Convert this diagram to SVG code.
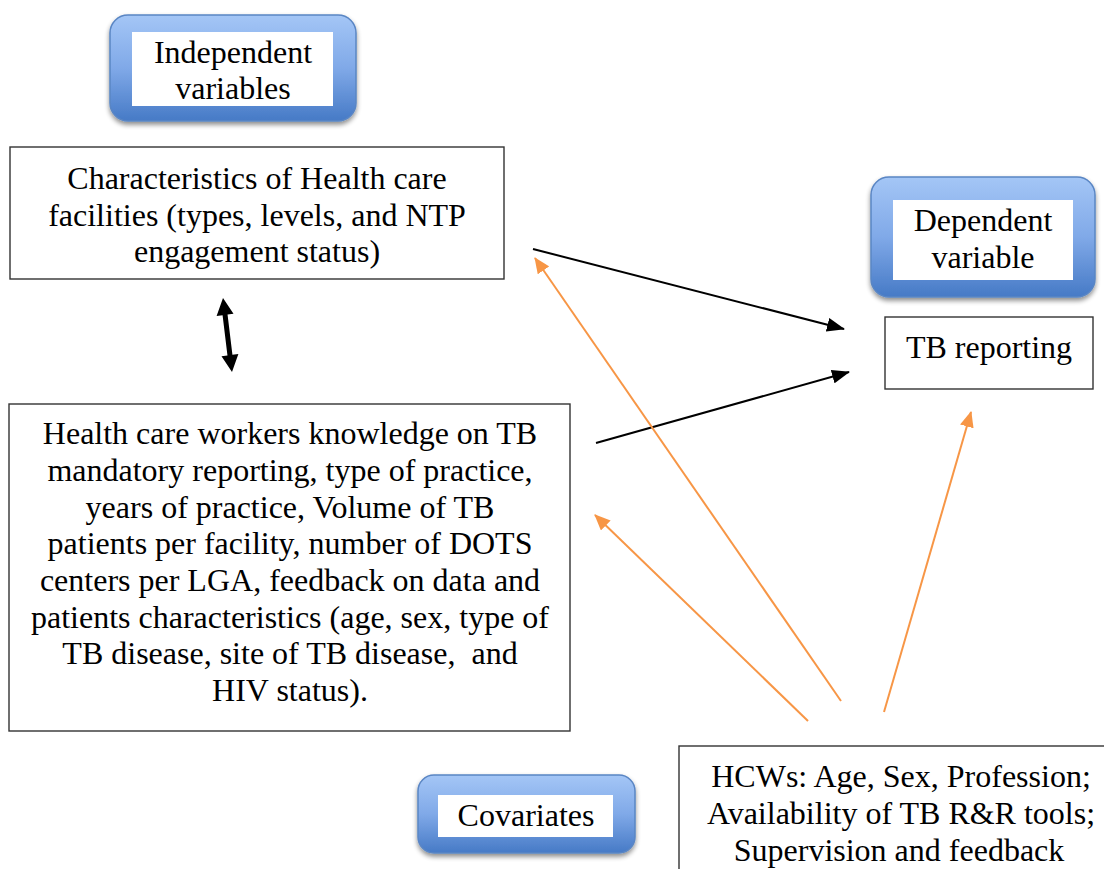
<svg xmlns="http://www.w3.org/2000/svg" width="1104" height="869" viewBox="0 0 1104 869">
  <style>
    .t { font-family: "Liberation Serif", "Times New Roman", serif; font-size: 32px; fill: #000; text-anchor: middle; }
    .box { fill: #fff; stroke: #333; stroke-width: 1.4; }
    .pill { fill: url(#blueGrad); stroke: #5a86c4; stroke-width: 1.5; filter: url(#shadow); }
    .inner { fill: #fff; }
    .blk { stroke: #000; stroke-width: 2; fill: none; marker-end: url(#headBlack); }
    .org { stroke: #f79646; stroke-width: 2; fill: none; marker-end: url(#headOrange); }
  </style>
  <defs>
    <linearGradient id="blueGrad" x1="0" y1="0" x2="0" y2="1">
      <stop offset="0" stop-color="#a4c6f6"/>
      <stop offset="0.5" stop-color="#80a9e8"/>
      <stop offset="1" stop-color="#467ac6"/>
    </linearGradient>
    <filter id="shadow" x="-10%" y="-10%" width="120%" height="130%">
      <feGaussianBlur in="SourceAlpha" stdDeviation="2.5"/>
      <feOffset dx="0" dy="3" result="b"/>
      <feComponentTransfer><feFuncA type="linear" slope="0.45"/></feComponentTransfer>
      <feMerge><feMergeNode/><feMergeNode in="SourceGraphic"/></feMerge>
    </filter>
    <marker id="headBlack" markerUnits="userSpaceOnUse" markerWidth="18" markerHeight="14" refX="17" refY="7" orient="auto">
      <path d="M0,0 L18,7 L0,14 Z" fill="#000"/>
    </marker>
    <marker id="headOrange" markerUnits="userSpaceOnUse" markerWidth="16" markerHeight="14" refX="15" refY="7" orient="auto">
      <path d="M0,0 L16,7 L0,14 Z" fill="#f79646"/>
    </marker>
  </defs>

  <rect width="1104" height="869" fill="#fff"/>

  <!-- Header labels -->
  <g id="independent-label">
    <rect class="pill" x="110" y="15" width="246" height="106" rx="18"/>
    <rect class="inner" x="132" y="32" width="201" height="74"/>
    <text class="t" x="233" y="63">Independent</text>
    <text class="t" x="233" y="99">variables</text>
  </g>

  <g id="dependent-label">
    <rect class="pill" x="871" y="177" width="224" height="120" rx="18"/>
    <rect class="inner" x="893" y="200" width="180" height="80"/>
    <text class="t" x="983" y="231">Dependent</text>
    <text class="t" x="983" y="268">variable</text>
  </g>

  <g id="covariates-label">
    <rect class="pill" x="418" y="775" width="217" height="78" rx="16"/>
    <rect class="inner" x="438" y="795" width="175" height="42"/>
    <text class="t" x="526" y="826">Covariates</text>
  </g>

  <!-- Variable boxes -->
  <g id="facilities">
    <rect class="box" x="10" y="147" width="494" height="132"/>
    <text class="t" x="257" y="189">Characteristics of Health care</text>
    <text class="t" x="257" y="226">facilities (types, levels, and NTP</text>
    <text class="t" x="257" y="262">engagement status)</text>
  </g>

  <g id="workers">
    <rect class="box" x="9" y="404" width="561" height="327"/>
    <text class="t" x="290" y="444">Health care workers knowledge on TB</text>
    <text class="t" x="290" y="481">mandatory reporting, type of practice,</text>
    <text class="t" x="290" y="518">years of practice, Volume of TB</text>
    <text class="t" x="290" y="554">patients per facility, number of DOTS</text>
    <text class="t" x="290" y="591">centers per LGA, feedback on data and</text>
    <text class="t" x="290" y="628">patients characteristics (age, sex, type of</text>
    <text class="t" x="290" y="664" xml:space="preserve">TB disease, site of TB disease,  and</text>
    <text class="t" x="290" y="701">HIV status).</text>
  </g>

  <g id="tb-reporting">
    <rect class="box" x="885" y="317" width="208" height="72"/>
    <text class="t" x="989" y="358">TB reporting</text>
  </g>

  <g id="covariates">
    <rect class="box" x="679" y="746" width="440" height="140"/>
    <text class="t" x="901" y="787">HCWs: Age, Sex, Profession;</text>
    <text class="t" x="901" y="824">Availability of TB R&amp;R tools;</text>
    <text class="t" x="899" y="861">Supervision and feedback</text>
  </g>

  <!-- Connectors -->
  <g id="connectors">
    <line class="blk" x1="533" y1="249" x2="844" y2="329"/>
    <line class="blk" x1="596" y1="443" x2="849" y2="372"/>
    <line class="org" x1="841" y1="701" x2="535" y2="258"/>
    <line class="org" x1="808" y1="721" x2="595" y2="515"/>
    <line class="org" x1="884" y1="712" x2="971" y2="412"/>
    <!-- two-way association between the two independent sets -->
    <polygon fill="#000" points="223,298 233.5,313.85 227.54,314.58 232.42,354.82 238.38,354.09 232,372 221.5,356.15 227.46,355.42 222.58,315.18 216.6,315.9"/>
  </g>
</svg>
